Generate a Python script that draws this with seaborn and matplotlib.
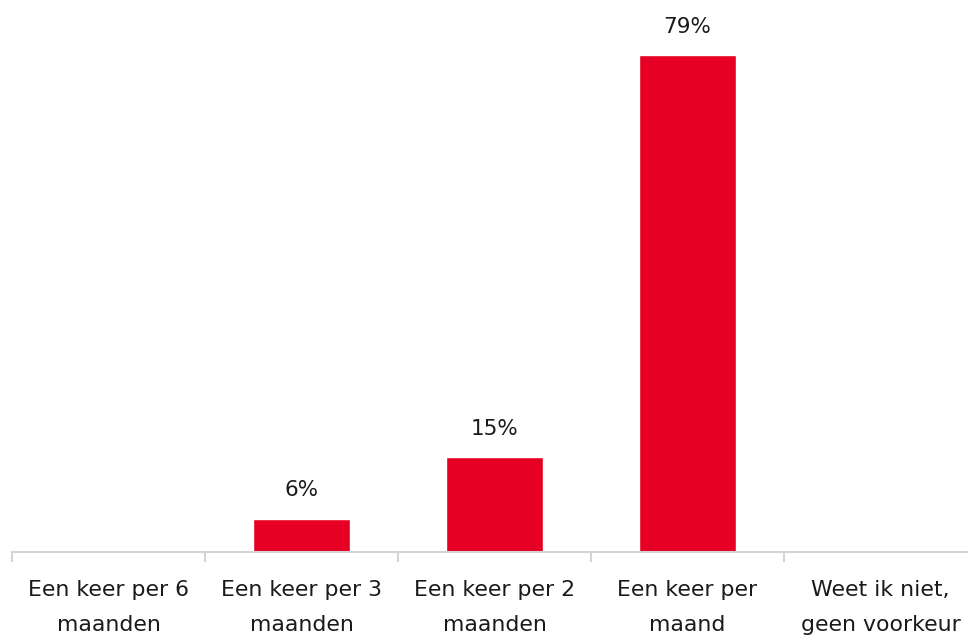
import matplotlib
matplotlib.use("Agg")
import matplotlib.pyplot as plt
import seaborn as sns
import pandas as pd

categories = ["Een keer per 6\nmaanden", "Een keer per 3\nmaanden", "Een keer per 2\nmaanden",
              "Een keer per\nmaand", "Weet ik niet,\ngeen voorkeur"]
values = [0, 5.3, 15.1, 79, 0]
value_labels = ["", "6%", "15%", "79%", ""]

sns.set_theme(style="white")
plt.rcParams['font.family'] = ['DejaVu Sans']

df = pd.DataFrame({"cat": categories, "val": values})

fig = plt.figure(figsize=(9.68, 6.37), dpi=100)
W, H = 968, 637
left_px, right_px = 12, 977
base_px = 552
ymax = 88
ppu = 497 / 79.0
top_px = base_px - ymax * ppu
ax = fig.add_axes([left_px / W, (H - base_px) / H, (right_px - left_px) / W, (base_px - top_px) / H])

sns.barplot(data=df, x="cat", y="val", color="#E50024", width=0.5, ax=ax, saturation=1)
ax.set_xlim(-0.5, 4.5)
ax.set_ylim(0, ymax)

for i, (v, lab) in enumerate(zip(values, value_labels)):
    if lab:
        ax.annotate(lab, (i, v), xytext=(0, 16), textcoords="offset points",
                    ha="center", va="baseline", fontsize=15.5, color="#1a1a1a")

for s in ["top", "right", "left"]:
    ax.spines[s].set_visible(False)
ax.spines["bottom"].set_color("#d4d4d4")
ax.spines["bottom"].set_linewidth(1.5)
ax.set_yticks([])
ax.set_xlabel("")
ax.set_ylabel("")
ax.set_xticks(range(len(categories)))
ax.set_xticklabels(categories, fontsize=15.8, linespacing=1.9, color="#1a1a1a")
ax.tick_params(axis="x", which="major", length=0, pad=20.5)
ax.set_xticks([i - 0.5 for i in range(len(categories) + 1)], minor=True)
ax.tick_params(axis="x", which="minor", length=7, width=1.5, color="#d4d4d4", bottom=True)

fig.savefig("out.png", dpi=100)
